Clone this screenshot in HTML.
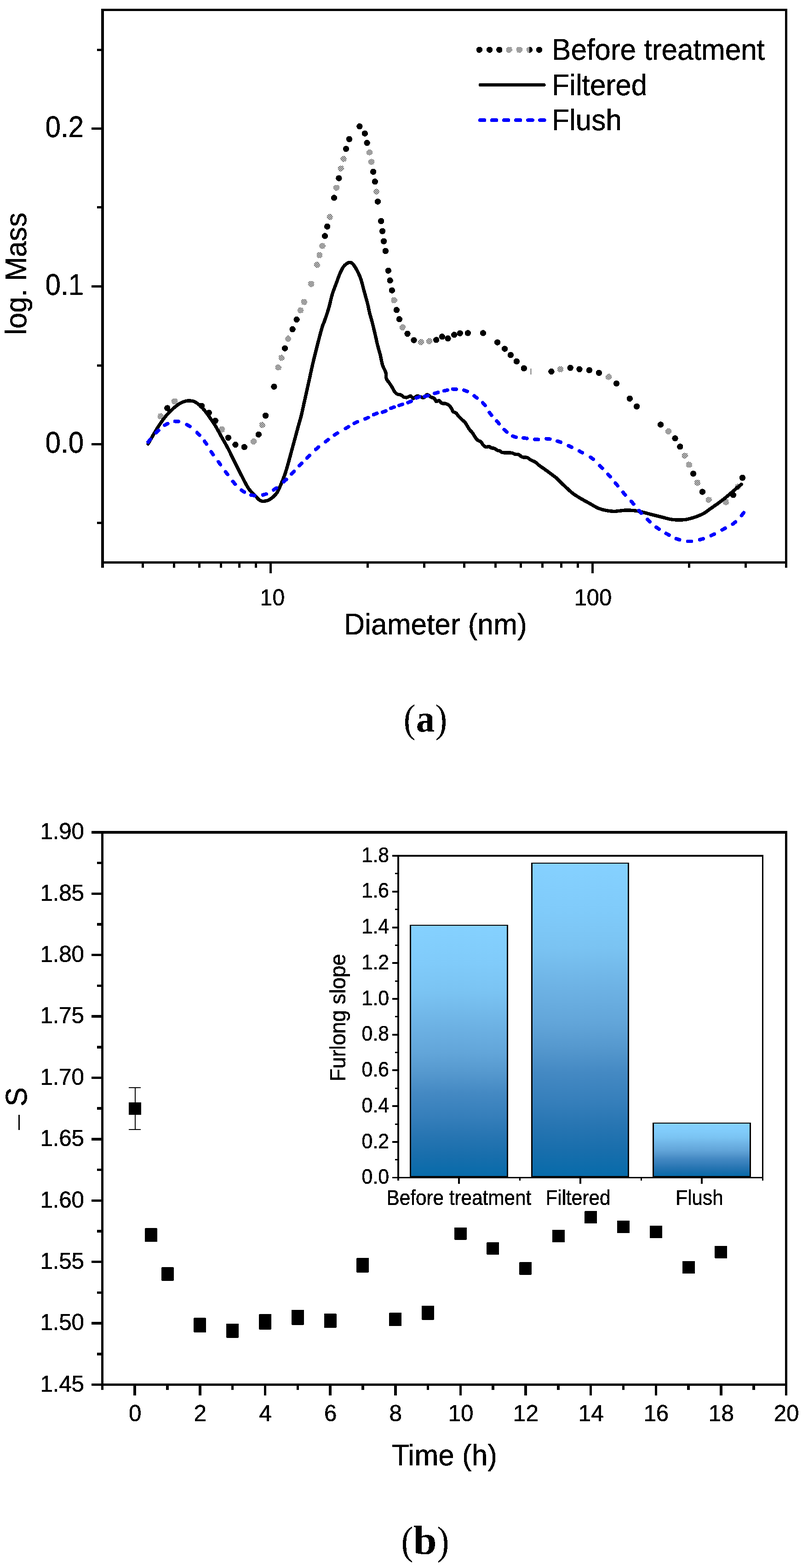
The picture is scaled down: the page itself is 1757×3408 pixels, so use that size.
<!DOCTYPE html>
<html lang="en">
<head>
<meta charset="utf-8">
<title>Figure: particle size distribution and Furlong slope</title>
<style>
html,body{margin:0;padding:0;background:#fff;}
body{width:1757px;height:3408px;overflow:hidden;}
svg{display:block;}
text{font-family:"Liberation Sans",Arial,Helvetica,sans-serif;fill:#000;stroke:#000;stroke-width:0.5px;filter:url(#bw);}
.serif{font-family:"Liberation Serif","Times New Roman",serif;stroke:none;}
.ax{shape-rendering:crispEdges;}
</style>
</head>
<body>
<svg width="1757" height="3408" viewBox="0 0 1757 3408">
<defs>
<pattern id="hatch" width="4" height="4" patternUnits="userSpaceOnUse" shape-rendering="crispEdges">
<rect x="0" y="0" width="1" height="1"/><rect x="1" y="1" width="1" height="1"/><rect x="2" y="2" width="1" height="1"/><rect x="3" y="3" width="1" height="1"/><rect x="1" y="3" width="1" height="1"/><rect x="3" y="1" width="1" height="1"/>
</pattern>
<filter id="bw" x="-5%" y="-20%" width="110%" height="140%" color-interpolation-filters="sRGB"><feComponentTransfer><feFuncA type="discrete" tableValues="0 1"/></feComponentTransfer></filter>
<linearGradient id="bar" x1="0" y1="0" x2="0" y2="1">
<stop offset="0" stop-color="#85d1ff"/><stop offset="0.15" stop-color="#80cbfa"/><stop offset="0.27" stop-color="#7ac3f2"/><stop offset="0.39" stop-color="#6eb3e5"/><stop offset="0.51" stop-color="#62a5d9"/><stop offset="0.59" stop-color="#5598ce"/><stop offset="0.67" stop-color="#4489c3"/><stop offset="0.76" stop-color="#367fbb"/><stop offset="0.84" stop-color="#2775b2"/><stop offset="0.92" stop-color="#186eac"/><stop offset="1" stop-color="#076baa"/>
</linearGradient>
</defs>
<rect x="0" y="0" width="1757" height="3408" fill="#fff"/>

<g id="plot-a">
<g class="ax">
<rect x="220" y="19" width="6" height="1215" fill="#000" />
<rect x="220" y="19" width="1492" height="5" fill="#000" />
<rect x="1707" y="19" width="5" height="1215" fill="#000" />
<rect x="220" y="1220" width="1492" height="5" fill="#000" />
<rect x="308" y="1225" width="5" height="9" fill="#000" />
<rect x="376" y="1225" width="5" height="9" fill="#000" />
<rect x="431" y="1225" width="5" height="9" fill="#000" />
<rect x="478" y="1225" width="5" height="9" fill="#000" />
<rect x="518" y="1225" width="5" height="9" fill="#000" />
<rect x="554" y="1225" width="5" height="9" fill="#000" />
<rect x="797" y="1225" width="5" height="9" fill="#000" />
<rect x="920" y="1225" width="5" height="9" fill="#000" />
<rect x="1007" y="1225" width="5" height="9" fill="#000" />
<rect x="1075" y="1225" width="5" height="9" fill="#000" />
<rect x="1130" y="1225" width="5" height="9" fill="#000" />
<rect x="1177" y="1225" width="5" height="9" fill="#000" />
<rect x="1218" y="1225" width="5" height="9" fill="#000" />
<rect x="1254" y="1225" width="5" height="9" fill="#000" />
<rect x="1496" y="1225" width="5" height="9" fill="#000" />
<rect x="1619" y="1225" width="5" height="9" fill="#000" />
<rect x="586" y="1225" width="5" height="21" fill="#000" />
<rect x="1286" y="1225" width="5" height="21" fill="#000" />
<rect x="199" y="963" width="21" height="5" fill="#000" />
<rect x="199" y="620" width="21" height="5" fill="#000" />
<rect x="199" y="277" width="21" height="5" fill="#000" />
<rect x="211" y="1134" width="9" height="5" fill="#000" />
<rect x="211" y="792" width="9" height="5" fill="#000" />
<rect x="211" y="448" width="9" height="5" fill="#000" />
<rect x="211" y="106" width="9" height="5" fill="#000" />
</g>
<text transform="translate(182 983.7) scale(0.96 1.03)" font-size="62.5" text-anchor="end">0.0</text>
<text transform="translate(182 640.7) scale(0.96 1.03)" font-size="62.5" text-anchor="end">0.1</text>
<text transform="translate(182 297.7) scale(0.96 1.03)" font-size="62.5" text-anchor="end">0.2</text>
<text transform="translate(592.5 1316.3) scale(0.96 1.015)" font-size="50" text-anchor="middle">10</text>
<text transform="translate(1289.5 1316.3) scale(0.98 1.015)" font-size="50" text-anchor="middle">100</text>
<text transform="translate(947 1378.8) scale(0.995 1.035)" font-size="62.5" text-anchor="middle">Diameter (nm)</text>
<text transform="translate(57 595) rotate(-90) scale(0.995 1.035)" font-size="62.5" text-anchor="middle">log. Mass</text>
<g id="series-before" shape-rendering="crispEdges">
<circle cx="349.4" cy="904.8" r="6.7" fill="url(#hatch)"/>
<circle cx="363.9" cy="887.0" r="6.7" fill="#000"/>
<circle cx="379.5" cy="872.3" r="6.7" fill="url(#hatch)"/>
<circle cx="438.6" cy="882.2" r="6.7" fill="#000"/>
<circle cx="454.2" cy="897.1" r="6.7" fill="#000"/>
<circle cx="468.2" cy="914.5" r="6.7" fill="#000"/>
<circle cx="482.6" cy="933.3" r="6.7" fill="url(#hatch)"/>
<circle cx="496.3" cy="951.3" r="6.7" fill="#000"/>
<circle cx="512.0" cy="966.5" r="6.7" fill="#000"/>
<circle cx="531.3" cy="971.7" r="6.7" fill="#000"/>
<circle cx="551.5" cy="959.6" r="6.7" fill="url(#hatch)"/>
<circle cx="562.3" cy="944.4" r="6.7" fill="#000"/>
<circle cx="570.3" cy="923.6" r="6.7" fill="url(#hatch)"/>
<circle cx="577.5" cy="903.3" r="6.7" fill="#000"/>
<circle cx="595.9" cy="840.3" r="6.7" fill="#000"/>
<circle cx="605.3" cy="798.6" r="6.7" fill="url(#hatch)"/>
<circle cx="612.3" cy="777.6" r="6.7" fill="url(#hatch)"/>
<circle cx="619.5" cy="757.1" r="6.7" fill="#000"/>
<circle cx="626.5" cy="735.9" r="6.7" fill="url(#hatch)"/>
<circle cx="636.1" cy="715.7" r="6.7" fill="#000"/>
<circle cx="645.1" cy="694.5" r="6.7" fill="#000"/>
<circle cx="653.5" cy="674.5" r="6.7" fill="url(#hatch)"/>
<circle cx="661.4" cy="656.4" r="6.7" fill="url(#hatch)"/>
<circle cx="676.6" cy="617.1" r="6.7" fill="url(#hatch)"/>
<circle cx="689.2" cy="575.7" r="6.7" fill="url(#hatch)"/>
<circle cx="694.9" cy="554.5" r="6.7" fill="url(#hatch)"/>
<circle cx="701.2" cy="534.5" r="6.7" fill="url(#hatch)"/>
<circle cx="706.5" cy="513.0" r="6.7" fill="#000"/>
<circle cx="711.6" cy="492.3" r="6.7" fill="#000"/>
<circle cx="717.1" cy="471.6" r="6.7" fill="url(#hatch)"/>
<circle cx="726.5" cy="429.9" r="6.7" fill="#000"/>
<circle cx="731.6" cy="408.2" r="6.7" fill="url(#hatch)"/>
<circle cx="736.9" cy="387.2" r="6.7" fill="#000"/>
<circle cx="741.4" cy="366.3" r="6.7" fill="url(#hatch)"/>
<circle cx="747.0" cy="345.3" r="6.7" fill="url(#hatch)"/>
<circle cx="752.5" cy="323.6" r="6.7" fill="#000"/>
<circle cx="759.5" cy="302.4" r="6.7" fill="#000"/>
<circle cx="781.9" cy="274.7" r="6.7" fill="#000"/>
<circle cx="793.3" cy="290.1" r="6.7" fill="#000"/>
<circle cx="798.1" cy="310.6" r="6.7" fill="#000"/>
<circle cx="803.6" cy="331.1" r="6.7" fill="url(#hatch)"/>
<circle cx="807.7" cy="352.0" r="6.7" fill="url(#hatch)"/>
<circle cx="811.6" cy="373.3" r="6.7" fill="#000"/>
<circle cx="815.4" cy="394.7" r="6.7" fill="#000"/>
<circle cx="818.6" cy="416.4" r="6.7" fill="url(#hatch)"/>
<circle cx="821.4" cy="438.1" r="6.7" fill="#000"/>
<circle cx="828.7" cy="480.5" r="6.7" fill="#000"/>
<circle cx="831.6" cy="502.4" r="6.7" fill="#000"/>
<circle cx="834.5" cy="524.3" r="6.7" fill="#000"/>
<circle cx="838.3" cy="545.5" r="6.7" fill="#000"/>
<circle cx="844.3" cy="588.2" r="6.7" fill="#000"/>
<circle cx="848.2" cy="609.6" r="6.7" fill="#000"/>
<circle cx="852.3" cy="631.1" r="6.7" fill="#000"/>
<circle cx="857.1" cy="652.5" r="6.7" fill="url(#hatch)"/>
<circle cx="862.4" cy="673.7" r="6.7" fill="#000"/>
<circle cx="868.4" cy="693.8" r="6.7" fill="#000"/>
<circle cx="875.2" cy="711.3" r="6.7" fill="url(#hatch)"/>
<circle cx="886.0" cy="725.3" r="6.7" fill="#000"/>
<circle cx="900.0" cy="739.2" r="6.7" fill="#000"/>
<circle cx="915.4" cy="743.4" r="6.7" fill="url(#hatch)"/>
<circle cx="933.3" cy="741.4" r="6.7" fill="url(#hatch)"/>
<circle cx="948.7" cy="738.8" r="6.7" fill="#000"/>
<circle cx="961.4" cy="731.8" r="6.7" fill="#000"/>
<circle cx="974.0" cy="735.7" r="6.7" fill="#000"/>
<circle cx="987.7" cy="727.7" r="6.7" fill="#000"/>
<circle cx="1000.2" cy="724.3" r="6.7" fill="#000"/>
<circle cx="1017.3" cy="723.9" r="6.7" fill="#000"/>
<circle cx="1050.4" cy="723.9" r="6.7" fill="#000"/>
<circle cx="1081.7" cy="744.1" r="6.7" fill="#000"/>
<circle cx="1097.6" cy="758.1" r="6.7" fill="#000"/>
<circle cx="1110.4" cy="771.6" r="6.7" fill="#000"/>
<circle cx="1123.4" cy="785.5" r="6.7" fill="#000"/>
<circle cx="1139.3" cy="800.5" r="6.7" fill="#000"/>
<circle cx="1199.0" cy="807.6" r="6.7" fill="#000"/>
<circle cx="1218.6" cy="802.7" r="6.7" fill="url(#hatch)"/>
<circle cx="1240.2" cy="799.5" r="6.7" fill="#000"/>
<circle cx="1260.0" cy="802.4" r="6.7" fill="#000"/>
<circle cx="1281.4" cy="804.6" r="6.7" fill="#000"/>
<circle cx="1302.4" cy="810.4" r="6.7" fill="#000"/>
<circle cx="1323.6" cy="819.0" r="6.7" fill="url(#hatch)"/>
<circle cx="1340.5" cy="833.5" r="6.7" fill="#000"/>
<circle cx="1369.4" cy="866.3" r="6.7" fill="#000"/>
<circle cx="1384.6" cy="883.4" r="6.7" fill="#000"/>
<circle cx="1436.6" cy="922.9" r="6.7" fill="#000"/>
<circle cx="1453.7" cy="937.3" r="6.7" fill="url(#hatch)"/>
<circle cx="1468.0" cy="952.8" r="6.7" fill="#000"/>
<circle cx="1478.8" cy="970.8" r="6.7" fill="#000"/>
<circle cx="1489.2" cy="990.3" r="6.7" fill="url(#hatch)"/>
<circle cx="1498.3" cy="1010.0" r="6.7" fill="url(#hatch)"/>
<circle cx="1507.5" cy="1029.5" r="6.7" fill="#000"/>
<circle cx="1516.5" cy="1049.4" r="6.7" fill="url(#hatch)"/>
<circle cx="1527.3" cy="1069.0" r="6.7" fill="#000"/>
<circle cx="1541.2" cy="1086.3" r="6.7" fill="url(#hatch)"/>
<circle cx="1578.5" cy="1091.4" r="6.7" fill="url(#hatch)"/>
<circle cx="1594.4" cy="1075.8" r="6.7" fill="#000"/>
<circle cx="1604.4" cy="1058.0" r="6.7" fill="url(#hatch)"/>
<circle cx="1614.5" cy="1038.4" r="6.7" fill="#000"/>
<rect x="1154" y="801" width="1" height="13" fill="#000" class="ax"/>
</g>
<path id="series-filtered" shape-rendering="crispEdges" d="M322.0,964.8C324.4,960.8 331.7,947.8 336.1,940.5C340.5,933.2 343.8,927.6 348.2,921.2C352.6,914.8 357.9,907.5 362.7,901.9C367.5,896.3 372.3,891.7 377.1,887.5C381.9,883.3 387.2,879.2 391.6,876.6C396.0,874.0 400.0,872.7 403.6,871.8C407.2,870.9 410.1,870.9 413.3,871.1C416.5,871.3 419.3,871.3 422.9,873.0C426.5,874.7 430.9,877.8 434.9,881.4C438.9,885.0 443.0,889.7 447.0,894.7C451.0,899.7 455.4,906.4 459.0,911.6C462.6,916.8 465.1,920.0 468.7,926.0C472.3,932.0 476.4,940.0 480.7,947.7C485.0,955.4 489.8,963.4 494.5,972.3C499.2,981.2 504.1,991.6 508.9,1001.2C513.7,1010.8 518.2,1020.1 523.4,1030.1C528.6,1040.1 535.0,1053.6 540.2,1061.4C545.4,1069.2 550.3,1072.6 554.7,1077.1C559.1,1081.6 562.3,1086.6 566.7,1088.4C571.1,1090.2 576.8,1089.3 581.2,1088.0C585.6,1086.7 589.7,1083.7 593.3,1080.7C596.9,1077.7 599.9,1074.7 602.9,1069.9C605.9,1065.1 608.5,1058.4 611.3,1051.8C614.1,1045.2 617.2,1037.7 619.8,1030.1C622.4,1022.5 624.6,1014.4 627.0,1006.0C629.4,997.6 631.6,989.1 634.2,979.5C636.8,969.9 640.1,957.8 642.7,948.2C645.3,938.6 647.8,929.4 649.9,921.7C652.0,914.0 653.4,910.1 655.4,902.0C657.4,893.9 659.2,884.9 661.9,872.8C664.6,860.7 668.4,843.9 671.6,829.4C674.8,814.9 678.0,799.6 681.2,786.0C684.4,772.4 687.6,760.0 690.8,747.5C694.0,735.0 698.1,719.4 700.5,711.3C702.9,703.1 702.9,705.5 705.3,698.6C707.7,691.7 712.1,679.2 714.9,669.6C717.7,660.0 719.4,649.9 722.2,640.7C725.0,631.5 729.0,621.8 731.8,614.2C734.6,606.6 736.6,600.5 739.0,594.9C741.4,589.3 743.9,584.1 746.3,580.5C748.7,576.9 751.1,575.0 753.5,573.3C755.9,571.6 758.3,570.2 760.7,570.4C763.1,570.6 765.2,571.2 768.0,574.5C770.8,577.8 774.8,584.7 777.6,590.1C780.4,595.5 782.4,599.8 784.8,607.0C787.2,614.2 789.6,624.7 792.0,633.5C794.4,642.3 797.3,652.0 799.3,660.0C801.3,668.0 802.5,675.3 804.1,681.7C805.7,688.1 806.9,690.9 808.9,698.6C810.9,706.4 814.1,719.7 816.1,728.2C818.1,736.8 819.2,742.7 821.0,749.9C822.8,757.1 825.2,764.4 827.0,771.6C828.8,778.8 829.8,786.9 831.8,793.3C833.8,799.7 837.6,805.1 839.0,810.1C840.4,815.1 839.0,819.4 840.2,823.0C841.4,826.6 844.3,829.0 846.3,832.0C848.3,835.0 850.3,837.8 852.3,841.1C854.3,844.4 856.3,849.0 858.3,851.6C860.3,854.2 862.0,855.8 864.3,856.9C866.6,858.0 869.6,857.4 871.9,858.4C874.2,859.4 875.6,862.0 877.9,862.9C880.1,863.8 882.9,864.1 885.4,863.7C887.9,863.3 890.7,860.3 893.0,860.7C895.3,861.1 896.8,865.9 899.0,865.9C901.2,865.9 903.8,861.2 906.5,860.7C909.2,860.2 913.0,862.3 915.5,862.9C918.0,863.5 919.3,865.3 921.6,864.4C923.9,863.5 926.6,858.0 929.1,857.7C931.6,857.5 934.1,861.5 936.6,862.9C939.1,864.3 942.2,864.3 944.2,865.9C946.2,867.5 947.0,871.9 948.7,872.7C950.5,873.5 952.7,869.9 954.7,870.5C956.7,871.1 958.3,875.4 960.7,876.5C963.1,877.6 966.4,876.5 969.0,877.3C971.6,878.1 974.3,879.1 976.6,881.1C978.9,883.1 981.2,887.1 982.6,889.4C984.0,891.6 983.3,893.2 984.8,894.6C986.3,896.0 989.5,895.9 991.6,897.7C993.8,899.5 995.4,902.7 997.7,905.2C1000.0,907.7 1003.0,910.6 1005.2,912.7C1007.5,914.8 1009.2,915.5 1011.2,918.0C1013.2,920.5 1015.5,925.0 1017.2,927.8C1019.0,930.5 1019.9,932.2 1021.7,934.5C1023.5,936.8 1026.0,938.9 1027.8,941.3C1029.6,943.7 1030.5,946.4 1032.3,948.9C1034.0,951.4 1036.0,954.5 1038.3,956.4C1040.5,958.3 1043.8,958.5 1045.8,960.2C1047.8,962.0 1048.6,965.0 1050.4,966.9C1052.2,968.8 1054.2,970.8 1056.4,971.4C1058.7,972.0 1061.9,970.3 1063.9,970.7C1065.9,971.1 1066.6,973.1 1068.4,973.7C1070.2,974.3 1072.2,973.6 1074.5,974.5C1076.8,975.4 1080.1,978.2 1082.0,979.0C1083.9,979.8 1084.3,978.8 1086.0,979.5C1087.7,980.2 1089.5,982.6 1092.0,983.4C1094.5,984.1 1097.6,983.8 1101.1,984.0C1104.6,984.2 1110.1,983.9 1113.1,984.4C1116.1,984.9 1116.7,986.4 1119.2,987.0C1121.7,987.6 1125.5,987.1 1128.2,988.2C1131.0,989.3 1132.7,992.5 1135.7,993.5C1138.7,994.5 1143.3,993.5 1146.3,994.5C1149.3,995.5 1150.8,997.8 1153.8,999.5C1156.8,1001.2 1161.0,1002.4 1164.3,1004.5C1167.6,1006.6 1169.9,1009.6 1173.4,1012.3C1176.9,1015.0 1181.4,1017.7 1185.4,1020.6C1189.4,1023.5 1193.5,1026.6 1197.5,1029.6C1201.5,1032.6 1206.0,1035.6 1209.5,1038.6C1213.0,1041.6 1215.1,1044.3 1218.6,1047.7C1222.1,1051.1 1226.2,1055.0 1230.6,1059.0C1235.0,1063.0 1239.9,1068.0 1245.1,1072.0C1250.3,1076.0 1255.9,1079.3 1261.9,1082.9C1267.9,1086.5 1274.2,1089.9 1281.2,1093.7C1288.2,1097.5 1295.5,1102.9 1304.1,1105.8C1312.7,1108.7 1323.4,1110.8 1333.0,1111.3C1342.6,1111.8 1353.1,1109.0 1361.9,1108.9C1370.7,1108.8 1377.2,1109.1 1386.0,1110.6C1394.8,1112.1 1406.1,1115.6 1414.9,1117.8C1423.7,1120.0 1431.0,1122.0 1439.0,1123.9C1447.0,1125.8 1454.7,1128.5 1463.1,1129.4C1471.5,1130.3 1481.6,1130.3 1489.6,1129.4C1497.6,1128.5 1504.5,1126.1 1511.3,1123.9C1518.0,1121.7 1524.4,1119.1 1530.1,1116.0C1535.8,1112.9 1540.2,1108.9 1545.2,1105.4C1550.2,1101.9 1555.2,1098.5 1560.2,1094.9C1565.2,1091.3 1570.3,1087.6 1575.3,1083.6C1580.3,1079.6 1585.4,1075.1 1590.4,1070.8C1595.4,1066.5 1601.8,1061.0 1605.4,1058.0C1609.0,1055.0 1611.1,1053.6 1612.2,1052.7" fill="none" stroke="#000" stroke-width="7.4" stroke-linecap="round" stroke-linejoin="round"/>
<g id="series-flush" shape-rendering="crispEdges" stroke="#0000ff" stroke-width="7.8" stroke-linecap="round" fill="none">
<line x1="322.2" y1="960.8" x2="327.0" y2="954.8"/>
<line x1="339.5" y1="940.6" x2="344.9" y2="935.4"/>
<line x1="358.0" y1="924.2" x2="364.8" y2="920.6"/>
<line x1="380.5" y1="915.7" x2="388.1" y2="916.1"/>
<line x1="406.3" y1="922.9" x2="412.9" y2="926.7"/>
<line x1="428.6" y1="940.2" x2="434.0" y2="945.6"/>
<line x1="444.8" y1="959.1" x2="449.2" y2="965.3"/>
<line x1="459.3" y1="981.9" x2="463.5" y2="988.1"/>
<line x1="474.9" y1="1003.6" x2="479.3" y2="1009.8"/>
<line x1="490.5" y1="1025.4" x2="495.1" y2="1031.4"/>
<line x1="506.3" y1="1046.6" x2="511.5" y2="1052.2"/>
<line x1="525.0" y1="1065.4" x2="531.4" y2="1069.6"/>
<line x1="546.1" y1="1076.0" x2="553.7" y2="1077.2"/>
<line x1="571.5" y1="1075.8" x2="578.9" y2="1073.6"/>
<line x1="595.0" y1="1064.8" x2="601.2" y2="1060.6"/>
<line x1="617.0" y1="1047.2" x2="622.6" y2="1042.0"/>
<line x1="634.0" y1="1029.9" x2="639.2" y2="1024.5"/>
<line x1="650.8" y1="1012.3" x2="656.2" y2="1006.9"/>
<line x1="667.7" y1="995.5" x2="673.1" y2="990.1"/>
<line x1="686.7" y1="976.7" x2="692.5" y2="971.7"/>
<line x1="707.8" y1="960.1" x2="713.8" y2="955.5"/>
<line x1="727.4" y1="945.5" x2="733.8" y2="941.3"/>
<line x1="751.4" y1="931.3" x2="758.0" y2="927.5"/>
<line x1="770.4" y1="920.0" x2="777.2" y2="916.8"/>
<line x1="793.9" y1="910.5" x2="800.9" y2="907.5"/>
<line x1="812.5" y1="901.2" x2="819.7" y2="898.4"/>
<line x1="831.8" y1="895.8" x2="839.0" y2="893.2"/>
<line x1="850.0" y1="887.4" x2="857.0" y2="884.6"/>
<line x1="868.0" y1="881.2" x2="875.2" y2="878.8"/>
<line x1="887.3" y1="875.0" x2="894.3" y2="872.0"/>
<line x1="905.3" y1="864.9" x2="912.5" y2="862.3"/>
<line x1="923.3" y1="861.6" x2="930.7" y2="859.8"/>
<line x1="945.0" y1="855.0" x2="952.4" y2="853.0"/>
<line x1="965.5" y1="849.5" x2="972.9" y2="847.9"/>
<line x1="984.6" y1="845.7" x2="992.2" y2="845.9"/>
<line x1="1008.9" y1="848.1" x2="1016.1" y2="850.7"/>
<line x1="1031.1" y1="860.5" x2="1037.3" y2="864.9"/>
<line x1="1049.8" y1="875.4" x2="1054.8" y2="881.2"/>
<line x1="1064.2" y1="896.5" x2="1068.8" y2="902.5"/>
<line x1="1080.2" y1="915.2" x2="1085.2" y2="920.8"/>
<line x1="1096.4" y1="933.9" x2="1102.2" y2="938.9"/>
<line x1="1115.0" y1="947.9" x2="1122.2" y2="950.5"/>
<line x1="1138.1" y1="951.8" x2="1145.7" y2="952.8"/>
<line x1="1162.9" y1="955.1" x2="1170.5" y2="955.3"/>
<line x1="1188.2" y1="953.6" x2="1195.8" y2="954.4"/>
<line x1="1212.1" y1="958.8" x2="1219.3" y2="961.2"/>
<line x1="1236.4" y1="968.8" x2="1243.2" y2="972.0"/>
<line x1="1259.8" y1="980.4" x2="1266.4" y2="984.0"/>
<line x1="1284.2" y1="993.8" x2="1290.2" y2="998.4"/>
<line x1="1304.3" y1="1012.2" x2="1309.7" y2="1017.6"/>
<line x1="1322.1" y1="1030.7" x2="1327.1" y2="1036.3"/>
<line x1="1338.3" y1="1049.9" x2="1343.1" y2="1055.7"/>
<line x1="1354.6" y1="1069.9" x2="1359.6" y2="1075.7"/>
<line x1="1372.7" y1="1089.6" x2="1377.7" y2="1095.4"/>
<line x1="1389.4" y1="1109.7" x2="1394.6" y2="1115.3"/>
<line x1="1407.8" y1="1129.0" x2="1413.4" y2="1134.2"/>
<line x1="1427.0" y1="1145.8" x2="1433.2" y2="1150.2"/>
<line x1="1448.3" y1="1159.4" x2="1454.9" y2="1163.0"/>
<line x1="1470.4" y1="1170.8" x2="1477.6" y2="1173.2"/>
<line x1="1495.5" y1="1176.4" x2="1503.1" y2="1176.4"/>
<line x1="1521.6" y1="1173.0" x2="1529.0" y2="1171.0"/>
<line x1="1546.4" y1="1164.0" x2="1553.4" y2="1160.8"/>
<line x1="1570.2" y1="1151.7" x2="1576.8" y2="1148.1"/>
<line x1="1593.4" y1="1139.0" x2="1599.4" y2="1134.4"/>
<line x1="1612.5" y1="1120.5" x2="1617.1" y2="1114.5"/>
</g>
<g id="legend-a" shape-rendering="crispEdges">
<circle cx="1042.4" cy="108.2" r="6.7" fill="#000"/>
<circle cx="1064.6" cy="108.2" r="6.7" fill="#000"/>
<circle cx="1085.8" cy="108.2" r="6.7" fill="#000"/>
<circle cx="1107.2" cy="108.2" r="6.7" fill="url(#hatch)"/>
<circle cx="1129.4" cy="108.2" r="6.7" fill="url(#hatch)"/>
<circle cx="1151.3" cy="108.2" r="6.7" fill="url(#hatch)"/>
<path d="M1151.3,101.5 A6.7,6.7 0 0 1 1151.3,114.9 Z" fill="#000"/>
<circle cx="1172.5" cy="108.2" r="6.7" fill="#000"/>
<line x1="1044.3" y1="184.6" x2="1183" y2="184.6" stroke="#000" stroke-width="7.3" stroke-linecap="round"/>
<g stroke="#0000ff" stroke-width="7.8" stroke-linecap="round">
<line x1="1043.8" y1="261.2" x2="1053.6000000000001" y2="261.2"/>
<line x1="1069.6999999999998" y1="261.2" x2="1079.5" y2="261.2"/>
<line x1="1095.8" y1="261.2" x2="1105.6000000000001" y2="261.2"/>
<line x1="1121.8" y1="261.2" x2="1131.6000000000001" y2="261.2"/>
<line x1="1148.1" y1="261.2" x2="1157.9" y2="261.2"/>
<line x1="1174.0" y1="261.2" x2="1183.8000000000002" y2="261.2"/>
</g>
<text transform="translate(1200 130.3) scale(0.995 1.035)" font-size="62.5" text-anchor="start">Before treatment</text>
<text transform="translate(1200 206.9) scale(0.995 1.035)" font-size="62.5" text-anchor="start">Filtered</text>
<text transform="translate(1200 283.3) scale(0.995 1.035)" font-size="62.5" text-anchor="start">Flush</text>
</g>
</g>
<text id="label-a" class="serif" y="1590.5"><tspan x="877.7" font-size="85.9" textLength="25.8" lengthAdjust="spacingAndGlyphs">(</tspan><tspan x="904.8" dy="-0.5" font-weight="bold" font-size="85.4" textLength="40.55" lengthAdjust="spacingAndGlyphs">a</tspan><tspan x="946.6" dy="0.5" font-size="85.9" textLength="25.8" lengthAdjust="spacingAndGlyphs">)</tspan></text>
<g id="plot-b">
<g class="ax">
<rect x="220" y="1806" width="5" height="1215" fill="#000" />
<rect x="199" y="1806" width="1513" height="6" fill="#000" />
<rect x="1707" y="1806" width="5" height="1227" fill="#000" />
<rect x="199" y="3007" width="1513" height="5" fill="#000" />
<rect x="199" y="1940" width="21" height="5" fill="#000" />
<rect x="199" y="2073" width="21" height="5" fill="#000" />
<rect x="199" y="2206" width="21" height="6" fill="#000" />
<rect x="199" y="2340" width="21" height="5" fill="#000" />
<rect x="199" y="2473" width="21" height="6" fill="#000" />
<rect x="199" y="2607" width="21" height="5" fill="#000" />
<rect x="199" y="2740" width="21" height="5" fill="#000" />
<rect x="199" y="2873" width="21" height="6" fill="#000" />
<rect x="211" y="1873" width="9" height="5" fill="#000" />
<rect x="211" y="2006" width="9" height="6" fill="#000" />
<rect x="211" y="2140" width="9" height="5" fill="#000" />
<rect x="211" y="2273" width="9" height="6" fill="#000" />
<rect x="211" y="2406" width="9" height="6" fill="#000" />
<rect x="211" y="2540" width="9" height="5" fill="#000" />
<rect x="211" y="2673" width="9" height="6" fill="#000" />
<rect x="211" y="2807" width="9" height="5" fill="#000" />
<rect x="211" y="2940" width="9" height="6" fill="#000" />
<rect x="290" y="3012" width="6" height="21" fill="#000" />
<rect x="432" y="3012" width="6" height="21" fill="#000" />
<rect x="574" y="3012" width="5" height="21" fill="#000" />
<rect x="715" y="3012" width="6" height="21" fill="#000" />
<rect x="857" y="3012" width="6" height="21" fill="#000" />
<rect x="999" y="3012" width="5" height="21" fill="#000" />
<rect x="1140" y="3012" width="6" height="21" fill="#000" />
<rect x="1282" y="3012" width="5" height="21" fill="#000" />
<rect x="1424" y="3012" width="5" height="21" fill="#000" />
<rect x="1565" y="3012" width="6" height="21" fill="#000" />
<rect x="361" y="3012" width="6" height="9" fill="#000" />
<rect x="503" y="3012" width="5" height="9" fill="#000" />
<rect x="645" y="3012" width="5" height="9" fill="#000" />
<rect x="786" y="3012" width="6" height="9" fill="#000" />
<rect x="928" y="3012" width="5" height="9" fill="#000" />
<rect x="1069" y="3012" width="6" height="9" fill="#000" />
<rect x="1211" y="3012" width="6" height="9" fill="#000" />
<rect x="1353" y="3012" width="5" height="9" fill="#000" />
<rect x="1494" y="3012" width="6" height="9" fill="#000" />
<rect x="1636" y="3012" width="6" height="9" fill="#000" />
</g>
<text transform="translate(183 1824.1) scale(0.985 1.015)" font-size="50" text-anchor="end">1.90</text>
<text transform="translate(183 1957.5) scale(0.985 1.015)" font-size="50" text-anchor="end">1.85</text>
<text transform="translate(183 2091) scale(0.985 1.015)" font-size="50" text-anchor="end">1.80</text>
<text transform="translate(183 2224.4) scale(0.985 1.015)" font-size="50" text-anchor="end">1.75</text>
<text transform="translate(183 2357.8) scale(0.985 1.015)" font-size="50" text-anchor="end">1.70</text>
<text transform="translate(183 2491.2) scale(0.985 1.015)" font-size="50" text-anchor="end">1.65</text>
<text transform="translate(183 2624.6) scale(0.985 1.015)" font-size="50" text-anchor="end">1.60</text>
<text transform="translate(183 2758) scale(0.985 1.015)" font-size="50" text-anchor="end">1.55</text>
<text transform="translate(183 2891.4) scale(0.985 1.015)" font-size="50" text-anchor="end">1.50</text>
<text transform="translate(183 3024.8) scale(0.985 1.015)" font-size="50" text-anchor="end">1.45</text>
<text transform="translate(293.7 3088.5) scale(0.985 1.015)" font-size="50" text-anchor="middle">0</text>
<text transform="translate(435.3 3088.5) scale(0.985 1.015)" font-size="50" text-anchor="middle">2</text>
<text transform="translate(577 3088.5) scale(0.985 1.015)" font-size="50" text-anchor="middle">4</text>
<text transform="translate(718.6 3088.5) scale(0.985 1.015)" font-size="50" text-anchor="middle">6</text>
<text transform="translate(860.3 3088.5) scale(0.985 1.015)" font-size="50" text-anchor="middle">8</text>
<text transform="translate(1001.9 3088.5) scale(0.985 1.015)" font-size="50" text-anchor="middle">10</text>
<text transform="translate(1143.5 3088.5) scale(0.985 1.015)" font-size="50" text-anchor="middle">12</text>
<text transform="translate(1285.2 3088.5) scale(0.985 1.015)" font-size="50" text-anchor="middle">14</text>
<text transform="translate(1426.8 3088.5) scale(0.985 1.015)" font-size="50" text-anchor="middle">16</text>
<text transform="translate(1568.5 3088.5) scale(0.985 1.015)" font-size="50" text-anchor="middle">18</text>
<text transform="translate(1710.1 3088.5) scale(0.985 1.015)" font-size="50" text-anchor="middle">20</text>
<text transform="translate(966.5 3184.8) scale(0.995 1.035)" font-size="62.5" text-anchor="middle">Time (h)</text>
<text id="ytitle-b" transform="translate(58 2456) rotate(-90)" font-size="62.5"><tspan x="0" dy="-4" font-size="49.3" stroke="none" textLength="33.2" lengthAdjust="spacingAndGlyphs">–</tspan> <tspan x="51.2" dy="4" font-size="65.6" textLength="41.7" lengthAdjust="spacingAndGlyphs">S</tspan></text>
<g id="series-s" class="ax">
<rect x="292.5" y="2364" width="2" height="91" fill="#000" />
<rect x="280" y="2363" width="26" height="2" fill="#000" />
<rect x="280" y="2454" width="26" height="2" fill="#000" />
<rect x="280.0" y="2396.0" width="27" height="27" rx="1.5" fill="#000"/>
<rect x="315.0" y="2669.2" width="27" height="29.8" rx="1.5" fill="#000"/>
<rect x="351.1" y="2754.3" width="27" height="29.5" rx="1.5" fill="#000"/>
<rect x="421.2" y="2864.3" width="27" height="31.5" rx="1.5" fill="#000"/>
<rect x="492.1" y="2876.9" width="27" height="30.8" rx="1.5" fill="#000"/>
<rect x="563.2" y="2856.1" width="27" height="33.5" rx="1.5" fill="#000"/>
<rect x="634.1" y="2847.1" width="27" height="32.5" rx="1.5" fill="#000"/>
<rect x="704.7" y="2855.1" width="27" height="30.8" rx="1.5" fill="#000"/>
<rect x="775.2" y="2734.2" width="27" height="31.5" rx="1.5" fill="#000"/>
<rect x="846.1" y="2853.2" width="27" height="28.8" rx="1.5" fill="#000"/>
<rect x="917.0" y="2837.9" width="27" height="30.8" rx="1.5" fill="#000"/>
<rect x="987.9" y="2667.8" width="27" height="27" rx="1.5" fill="#000"/>
<rect x="1058.2" y="2700.0" width="27" height="27" rx="1.5" fill="#000"/>
<rect x="1129.4" y="2743.2" width="27" height="27.5" rx="1.5" fill="#000"/>
<rect x="1201.0" y="2673.0" width="27" height="27" rx="1.5" fill="#000"/>
<rect x="1271.2" y="2632.1" width="27" height="27" rx="1.5" fill="#000"/>
<rect x="1342.1" y="2652.9" width="27" height="27" rx="1.5" fill="#000"/>
<rect x="1413.0" y="2664.0" width="27" height="27" rx="1.5" fill="#000"/>
<rect x="1483.9" y="2740.9" width="27" height="27" rx="1.5" fill="#000"/>
<rect x="1554.2" y="2707.9" width="27" height="27" rx="1.5" fill="#000"/>
</g>
<g id="inset">
<g class="ax">
<rect x="864" y="1858" width="4" height="708" fill="#000" />
<rect x="853" y="1858" width="807" height="4" fill="#000" />
<rect x="1657" y="1858" width="3" height="708" fill="#000" />
<rect x="853" y="2558" width="807" height="3" fill="#000" />
<rect x="853" y="2480" width="11" height="4" fill="#000" />
<rect x="853" y="2402" width="11" height="4" fill="#000" />
<rect x="853" y="2324" width="11" height="4" fill="#000" />
<rect x="853" y="2247" width="11" height="4" fill="#000" />
<rect x="853" y="2169" width="11" height="4" fill="#000" />
<rect x="853" y="2091" width="11" height="4" fill="#000" />
<rect x="853" y="2014" width="11" height="4" fill="#000" />
<rect x="853" y="1936" width="11" height="4" fill="#000" />
<rect x="859" y="2519" width="5" height="3" fill="#000" />
<rect x="859" y="2442" width="5" height="3" fill="#000" />
<rect x="859" y="2364" width="5" height="3" fill="#000" />
<rect x="859" y="2286" width="5" height="3" fill="#000" />
<rect x="859" y="2208" width="5" height="3" fill="#000" />
<rect x="859" y="2131" width="5" height="3" fill="#000" />
<rect x="859" y="2053" width="5" height="3" fill="#000" />
<rect x="859" y="1975" width="5" height="3" fill="#000" />
<rect x="859" y="1897" width="5" height="3" fill="#000" />
<rect x="996" y="2561" width="4" height="12" fill="#000" />
<rect x="1260" y="2561" width="4" height="12" fill="#000" />
<rect x="1524" y="2561" width="4" height="12" fill="#000" />
<rect x="1129" y="2561" width="3" height="5" fill="#000" />
<rect x="1393" y="2561" width="3" height="5" fill="#000" />
</g>
<rect x="891" y="2010" width="214" height="549" fill="#000" class="ax"/>
<rect x="894" y="2012" width="208" height="544" fill="url(#bar)" class="ax"/>
<rect x="1155" y="1875" width="213" height="684" fill="#000" class="ax"/>
<rect x="1158" y="1877" width="207" height="679" fill="url(#bar)" class="ax"/>
<rect x="1419" y="2440" width="214" height="119" fill="#000" class="ax"/>
<rect x="1422" y="2442" width="208" height="114" fill="url(#bar)" class="ax"/>
<text transform="translate(846 2573.2) scale(0.95 1.02)" font-size="45" text-anchor="end">0.0</text>
<text transform="translate(846 2495.5) scale(0.95 1.02)" font-size="45" text-anchor="end">0.2</text>
<text transform="translate(846 2417.7) scale(0.95 1.02)" font-size="45" text-anchor="end">0.4</text>
<text transform="translate(846 2340) scale(0.95 1.02)" font-size="45" text-anchor="end">0.6</text>
<text transform="translate(846 2262.2) scale(0.95 1.02)" font-size="45" text-anchor="end">0.8</text>
<text transform="translate(846 2184.5) scale(0.95 1.02)" font-size="45" text-anchor="end">1.0</text>
<text transform="translate(846 2106.8) scale(0.95 1.02)" font-size="45" text-anchor="end">1.2</text>
<text transform="translate(846 2029) scale(0.95 1.02)" font-size="45" text-anchor="end">1.4</text>
<text transform="translate(846 1951.3) scale(0.95 1.02)" font-size="45" text-anchor="end">1.6</text>
<text transform="translate(846 1873.5) scale(0.95 1.02)" font-size="45" text-anchor="end">1.8</text>
<text transform="translate(997.9 2618.6) scale(0.94 1.035)" font-size="45" text-anchor="middle">Before treatment</text>
<text transform="translate(1257 2618.6) scale(0.94 1.035)" font-size="45" text-anchor="middle">Filtered</text>
<text transform="translate(1520.9 2618.6) scale(0.94 1.035)" font-size="45" text-anchor="middle">Flush</text>
<text transform="translate(751 2212) rotate(-90) scale(1 1.035)" font-size="45.8" text-anchor="middle">Furlong slope</text>
</g>
</g>
<text id="label-b" class="serif" y="3377.6"><tspan x="872.5" font-size="85.9" textLength="26.07" lengthAdjust="spacingAndGlyphs">(</tspan><tspan x="898.8" dy="0.2" font-weight="bold" font-size="89.25" textLength="50.87" lengthAdjust="spacingAndGlyphs">b</tspan><tspan x="950.4" dy="-0.2" font-size="85.9" textLength="26.07" lengthAdjust="spacingAndGlyphs">)</tspan></text>
</svg>
</body>
</html>
